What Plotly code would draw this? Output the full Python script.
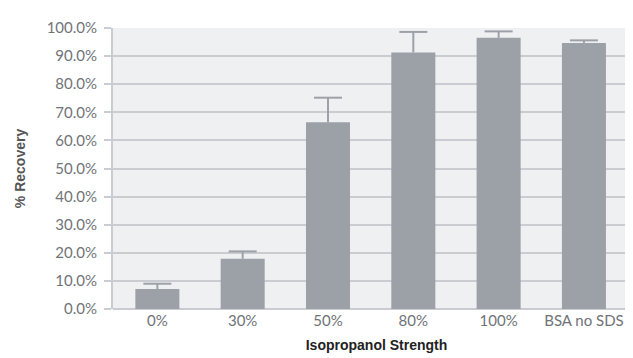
import plotly.graph_objects as go

categories = ["0%", "30%", "50%", "80%", "100%", "BSA no SDS"]
recovery = [7.1, 17.9, 66.5, 91.3, 96.5, 94.7]
error_up = [1.9, 2.6, 8.7, 7.3, 2.3, 0.9]
y_ticks = [0, 10, 20, 30, 40, 50, 60, 70, 80, 90, 100]
y_tick_labels = [f"{v:.1f}%" for v in y_ticks]

bar_color = "#9ca1a8"
grid_color = "#c9cdd1"
xs = list(range(len(categories)))
err_tops = [v + e for v, e in zip(recovery, error_up)]

fig = go.Figure()
fig.add_trace(go.Bar(
    x=xs, y=recovery, width=0.516,
    marker=dict(color=bar_color, line=dict(width=0)),
))
# upper error bars: whisker down to the bar top, cap drawn as a marker
fig.add_trace(go.Scatter(
    x=xs, y=err_tops, mode="markers",
    marker=dict(symbol="line-ew", size=20, color=bar_color,
                line=dict(color=bar_color, width=2)),
    error_y=dict(type="data", symmetric=False, array=[0] * len(xs),
                 arrayminus=error_up, color=bar_color, thickness=2, width=0),
    hoverinfo="skip",
))

fig.update_layout(
    width=633, height=358,
    margin=dict(l=105, r=1, t=20, b=57),
    paper_bgcolor="white",
    plot_bgcolor="#eff0f2",
    showlegend=False,
    font=dict(family="Lato, DejaVu Sans, sans-serif", size=15, color="#6f7378"),
    xaxis=dict(
        tickmode="array",
        tickvals=xs,
        ticktext=categories,
        range=[-0.52, 5.657],
        showgrid=False,
        showline=False,
        zeroline=False,
        ticks="",
        ticklabelstandoff=1,
        title=dict(text="<b>Isopropanol Strength</b>",
                   font=dict(family="Liberation Sans, Arial, sans-serif",
                             size=14, color="#222222"),
                   standoff=12),
    ),
    yaxis=dict(
        range=[0, 100],
        tickmode="array",
        tickvals=y_ticks,
        ticktext=y_tick_labels,
        showgrid=True,
        gridcolor=grid_color,
        gridwidth=2,
        showline=True,
        linecolor=grid_color,
        linewidth=2,
        zeroline=True,
        zerolinecolor=grid_color,
        zerolinewidth=2,
        ticks="outside",
        ticklen=7,
        tickcolor=grid_color,
        tickwidth=2,
        ticklabelstandoff=4,
        title=dict(text="<b>% Recovery</b>",
                   font=dict(family="Liberation Sans, Arial, sans-serif",
                             size=14, color="#555555"),
                   standoff=18),
    ),
    shapes=[dict(type="line", xref="paper", yref="paper", x0=1, x1=1, y0=0, y1=1,
                 line=dict(color=grid_color, width=2))],
)

fig.write_html("out.html")
